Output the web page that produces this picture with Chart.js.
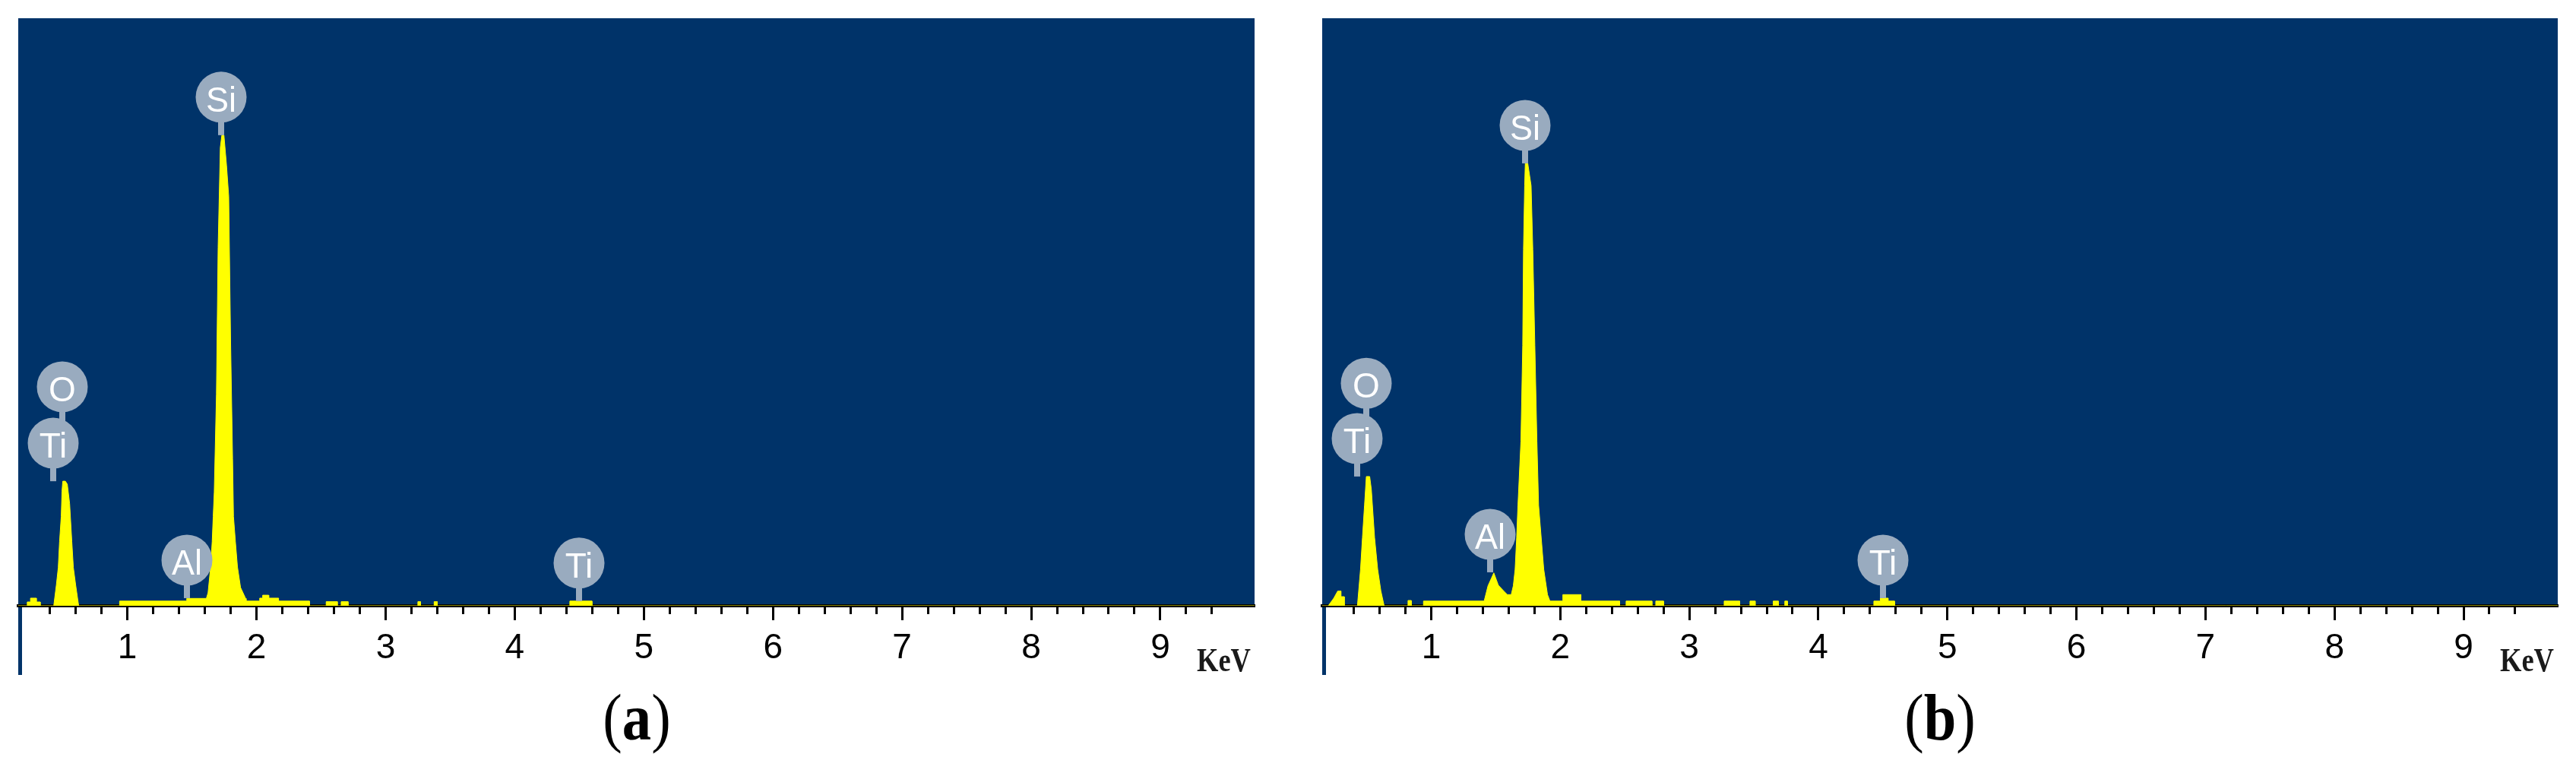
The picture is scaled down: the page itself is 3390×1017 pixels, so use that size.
<!DOCTYPE html>
<html>
<head>
<meta charset="utf-8">
<script src="https://cdn.jsdelivr.net/npm/chart.js@4.4.1/dist/chart.umd.min.js"></script>
<style>
    html, body { margin: 0; padding: 0; background: #fff; width: 3390px; height: 1017px; overflow: hidden; }
    canvas { position: absolute; top: 0; }
    #spectrum-a { left: 0; }
    #spectrum-b { left: 1695px; }
    .cap {
        position: absolute; top: 900px; width: 300px; text-align: center;
        font-family: "Liberation Serif", "Times New Roman", serif; font-size: 87px; line-height: 87px;
        color: #000; transform: scaleX(0.88);
    }
</style>
</head>
<body>
<canvas id="spectrum-a" width="1695" height="1017"></canvas>
<canvas id="spectrum-b" width="1695" height="1017"></canvas>
<div class="cap" style="left:688px">(<b>a</b>)</div>
<div class="cap" style="left:2403px">(<b>b</b>)</div>
<script>
/* axis */
const tickLabels = ['1', '2', '3', '4', '5', '6', '7', '8', '9'];
const axisUnit = 'KeV';

/* spectrum (a) : energy in keV, counts in % of full scale */
const energyA = [0.155, 0.225, 0.225, 0.25, 0.25, 0.295, 0.295, 0.325, 0.325,
    0.43, 0.45, 0.465, 0.475, 0.488, 0.494, 0.50, 0.52, 0.535, 0.553, 0.57, 0.582, 0.60, 0.623,
    0.94, 0.94, 1.46, 1.46, 1.612,
    1.625, 1.645, 1.657, 1.665, 1.673, 1.69, 1.703, 1.72, 1.732, 1.748, 1.768, 1.785, 1.80, 1.815, 1.822, 1.837, 1.853, 1.877, 1.916, 1.92,
    2.025, 2.025, 2.048, 2.048, 2.095, 2.095, 2.171, 2.171, 2.41, 2.41,
    2.54, 2.54, 2.626, 2.626, 2.656, 2.656, 2.709, 2.709,
    3.25, 3.25, 3.27, 3.27, 3.376, 3.376, 3.40, 3.40,
    4.427, 4.427, 4.598, 4.598, 9.73];
const countsA = [0, 0, 0.65, 0.65, 1.3, 1.3, 0.65, 0.65, 0,
    0, 3.5, 6.5, 10.9, 15.2, 19.5, 21.2, 21.2, 20.7, 17.4, 10.9, 6.5, 3.5, 0,
    0, 0.8, 0.8, 1.25, 1.25,
    2.2, 6.6, 10.9, 15.2, 19.3, 36, 61, 78, 80.1, 80.1, 75, 69.7, 44.5, 25, 15.2, 10.9, 6.6, 3.1, 1.25, 0.8,
    0.8, 1.3, 1.3, 1.8, 1.8, 1.3, 1.3, 0.8, 0.8, 0,
    0, 0.7, 0.7, 0, 0, 0.7, 0.7, 0,
    0, 0.7, 0.7, 0, 0, 0.7, 0.7, 0,
    0, 0.8, 0.8, 0, 0];

/* spectrum (b) */
const energyB = [0.155, 0.202, 0.245, 0.275, 0.30, 0.30, 0.326, 0.326,
    0.428, 0.452, 0.467, 0.483, 0.497, 0.523, 0.536, 0.561, 0.585, 0.61, 0.635,
    0.82, 0.82, 0.845, 0.845,
    0.94, 0.94, 1.41, 1.44, 1.485, 1.52, 1.567, 1.59, 1.62,
    1.636, 1.65, 1.662, 1.672, 1.695, 1.709, 1.715, 1.724, 1.729, 1.748, 1.774, 1.787, 1.803, 1.819, 1.832, 1.872, 1.901, 1.92,
    2.02, 2.02, 2.16, 2.16, 2.46, 2.46,
    2.51, 2.51, 2.71, 2.71, 2.74, 2.74, 2.80, 2.80,
    3.27, 3.27, 3.39, 3.39, 3.47, 3.47, 3.51, 3.51,
    3.65, 3.65, 3.69, 3.69, 3.74, 3.74, 3.76, 3.76,
    4.43, 4.43, 4.48, 4.48, 4.54, 4.54, 4.59, 4.59, 9.73];
const countsB = [0, 0, 1.3, 2.5, 2.5, 1.55, 1.55, 0,
    0, 6.2, 11.6, 17.1, 22.0, 22.0, 19.8, 11.6, 6.2, 2.5, 0,
    0, 0.9, 0.9, 0,
    0, 0.8, 0.8, 3.4, 5.6, 3.5, 2.4, 1.9, 1.9,
    3.4, 6.2, 11.6, 17.1, 28.0, 44.3, 60.6, 71.5, 75.3, 75.3, 71.5, 60.6, 44.3, 28.0, 17.1, 6.2, 1.9, 0.8,
    0.8, 1.9, 1.9, 0.8, 0.8, 0,
    0, 0.8, 0.8, 0, 0, 0.8, 0.8, 0,
    0, 0.8, 0.8, 0, 0, 0.8, 0.8, 0,
    0, 0.8, 0.8, 0, 0, 0.8, 0.8, 0,
    0, 0.8, 0.8, 1.3, 1.3, 0.8, 0.8, 0, 0];

/* element markers: line energy and the height where the marker stem stops */
const markerNamesA = ['O', 'Ti', 'Al', 'Si', 'Ti'];
const markerEnergyA = [0.499, 0.425, 1.461, 1.729, 4.498];
const markerTopA = [30.8, 21.2, 1.3, 80.1, 0.8];

const markerNamesB = ['O', 'Ti', 'Al', 'Si', 'Ti'];
const markerEnergyB = [0.497, 0.424, 1.454, 1.727, 4.50];
const markerTopB = [31.4, 22.0, 5.7, 75.3, 1.3];

const NAVY = '#003369';
const BALLOON = '#99abbf';
const NARROW = '"Liberation Sans Narrow", "Liberation Sans", sans-serif';

const isWhole = (v) => Math.abs(v - Math.round(v)) < 1e-6;

// background, the balloons and the unit text
const edsPlugin = {
    id: 'eds',
    beforeDraw(chart) {
        const { ctx, chartArea } = chart;
        ctx.save();
        ctx.fillStyle = NAVY;
        ctx.fillRect(chartArea.left, chartArea.top, chartArea.right - chartArea.left, chartArea.bottom - chartArea.top);
        //left edge runs on below the axis
        ctx.fillRect(chartArea.left, chartArea.top, 5, chartArea.bottom - chartArea.top + 91);
        ctx.restore();
    },
    afterDatasetsDraw(chart, args, opts) {
        const { ctx } = chart;
        const x = chart.scales.x;
        const y = chart.scales.y;
        ctx.save();
        opts.names.forEach((name, i) => {
            const px = Math.round(x.getPixelForValue(opts.energy[i]));
            const stemEnd = y.getPixelForValue(opts.top[i]);
            const cy = stemEnd - 50;
            ctx.fillStyle = BALLOON;
            ctx.fillRect(px - 4, cy, 8, stemEnd - cy);
            ctx.beginPath();
            ctx.arc(px, cy, 33.5, 0, Math.PI * 2);
            ctx.fill();
            ctx.fillStyle = '#fff';
            ctx.font = '46px ' + NARROW;
            ctx.textAlign = 'center';
            ctx.textBaseline = 'alphabetic';
            ctx.fillText(name, px, cy + 19, 40);
        });
        ctx.restore();
    },
    afterDraw(chart) {
        const { ctx, chartArea } = chart;
        ctx.save();
        ctx.fillStyle = '#1a1a1a';
        ctx.font = 'bold 44px "Liberation Serif", serif';
        ctx.textAlign = 'left';
        ctx.textBaseline = 'alphabetic';
        ctx.fillText(axisUnit, chartArea.right - 76, chartArea.bottom + 86, 71);
        ctx.restore();
    }
};

function makeSpectrum(canvasId, energy, counts, names, markerEnergy, markerTop, pad) {
    const points = energy.map((e, i) => ({ x: e, y: counts[i] }));

    return new Chart(document.getElementById(canvasId), {
        type: 'line',
        data: {
            datasets: [{
                data: points,
                borderColor: '#ffff00',
                backgroundColor: '#ffff00',
                borderWidth: 1,
                fill: 'origin',
                pointRadius: 0,
                tension: 0
            }]
        },
        options: {
            responsive: false,
            animation: false,
            devicePixelRatio: 1,
            layout: { padding: { left: pad.left, right: pad.right, top: 24, bottom: 120 } },
            plugins: {
                legend: { display: false },
                tooltip: { enabled: false },
                eds: { names: names, energy: markerEnergy, top: markerTop }
            },
            scales: {
                x: {
                    type: 'linear',
                    min: 0.155,
                    max: 9.73,
                    z: 1,
                    afterBuildTicks: (s) => {
                        s.ticks = s.ticks.filter((t) => t.value > 0.3 && t.value < 9.7);
                    },
                    afterFit: (s) => {
                        s.height = 100;
                    },
                    border: { display: true, color: '#000', width: 4 },
                    grid: {
                        display: true,
                        drawOnChartArea: false,
                        drawTicks: true,
                        tickLength: 19,
                        tickWidth: 3,
                        tickColor: '#000',
                        tickBorderDash: (c) => (c.tick && isWhole(c.tick.value)) ? [] : [9, 60]
                    },
                    ticks: {
                        stepSize: 0.2,
                        autoSkip: false,
                        maxRotation: 0,
                        padding: 14,
                        color: '#000',
                        font: { family: NARROW, size: 46, lineHeight: 1 },
                        callback: (v) => isWhole(v) ? (tickLabels[Math.round(v) - 1] || '') : ''
                    }
                },
                y: {
                    display: false,
                    min: 0,
                    max: 100
                }
            }
        },
        plugins: [edsPlugin]
    });
}

makeSpectrum('spectrum-a', energyA, countsA, markerNamesA, markerEnergyA, markerTopA, { left: 24, right: 44 });
makeSpectrum('spectrum-b', energyB, countsB, markerNamesB, markerEnergyB, markerTopB, { left: 45, right: 24 });
</script>
</body>
</html>
